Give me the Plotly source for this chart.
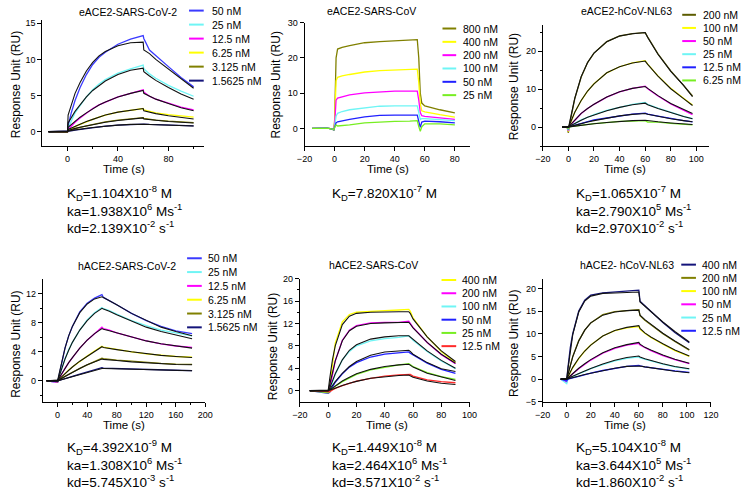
import plotly.graph_objects as go

W, H = 747, 494
FONT = "Liberation Sans, Arial, sans-serif"

# ---------------- colours ----------------
BLUE = "#3a3aff"
CYAN = "#6ff5f5"
MAG = "#ff00ff"
YEL = "#ffff00"
OLIVE = "#808000"
NAVY = "#14147a"
GREEN = "#77ee22"
RED = "#ff2a2a"
DKOLIVE = "#5c5c00"

# ---------------- panel 1: eACE2-SARS-CoV-2 ----------------
p1_conc = ["50 nM", "25 nM", "12.5 nM", "6.25 nM", "3.125 nM", "1.5625 nM"]
p1_colors = [BLUE, CYAN, MAG, YEL, OLIVE, NAVY]
p1_time = [-15, 0, 0.5, 3, 6, 10, 15, 20, 25, 30, 40, 50, 60, 60.5, 65, 70, 80, 90, 100]
p1_data = [
    [0, -0.1, 0.8, 2.6, 4.3, 6.1, 7.9, 9.3, 10.3, 11.0, 12.1, 12.8, 13.3, 12.9, 11.3, 10.5, 9.0, 7.5, 6.2],
    [0, -0.1, 0.5, 1.5, 2.6, 3.6, 4.8, 5.8, 6.6, 7.2, 8.1, 8.7, 9.2, 8.7, 8.0, 7.4, 6.4, 5.6, 4.9],
    [0, -0.1, 0.3, 0.8, 1.3, 1.9, 2.6, 3.2, 3.7, 4.1, 4.8, 5.3, 5.8, 5.5, 4.9, 4.5, 3.9, 3.4, 3.0],
    [0, -0.05, 0.1, 0.4, 0.7, 1.0, 1.4, 1.7, 2.0, 2.3, 2.7, 3.0, 3.2, 3.0, 2.8, 2.6, 2.35, 2.15, 2.0],
    [0, 0, 0.05, 0.2, 0.4, 0.6, 0.8, 1.0, 1.2, 1.35, 1.6, 1.8, 1.95, 1.85, 1.7, 1.6, 1.45, 1.35, 1.25],
    [0, 0, 0, 0.1, 0.2, 0.3, 0.45, 0.55, 0.65, 0.75, 0.9, 1.0, 1.1, 1.05, 1.0, 0.97, 0.9, 0.85, 0.8],
]
p1_fit = [
    [0, 0, 2.3, 3.8, 5.3, 6.8, 8.4, 9.6, 10.5, 11.1, 11.9, 12.3, 12.4, 11.3, 10.8, 10.0, 8.7, 7.3, 6.0],
    [0, 0, 1.2, 2.0, 2.8, 3.7, 4.8, 5.7, 6.4, 7.0, 7.9, 8.5, 8.8, 8.3, 7.7, 7.1, 6.1, 5.2, 4.5],
    [0, 0, 0.6, 1.0, 1.5, 2.0, 2.6, 3.2, 3.7, 4.1, 4.8, 5.3, 5.7, 5.3, 4.9, 4.5, 3.9, 3.3, 2.9],
    [0, 0, 0.3, 0.5, 0.75, 1.0, 1.4, 1.7, 2.0, 2.3, 2.7, 3.0, 3.2, 2.9, 2.7, 2.5, 2.2, 1.95, 1.75],
    [0, 0, 0.15, 0.3, 0.45, 0.6, 0.8, 1.0, 1.15, 1.3, 1.55, 1.75, 1.9, 1.75, 1.65, 1.55, 1.4, 1.3, 1.2],
    [0, 0, 0.08, 0.15, 0.25, 0.35, 0.47, 0.57, 0.67, 0.75, 0.9, 1.0, 1.08, 1.02, 0.98, 0.95, 0.88, 0.83, 0.78],
]

# ---------------- panel 2: eACE2-SARS-CoV (no fits) ----------------
p2_conc = ["800 nM", "400 nM", "200 nM", "100 nM", "50 nM", "25 nM"]
p2_colors = [OLIVE, YEL, MAG, CYAN, "#2020ff", GREEN]
p2_time = [-15, -5, -2, -0.5, 0, 0.5, 1, 2, 5, 10, 20, 30, 40, 50, 55, 56, 57, 58, 60, 70, 80]
p2_data = [
    [0, 0.1, -0.1, -0.4, 2, 15, 20, 22.5, 23.0, 23.5, 24.3, 24.6, 24.9, 25.0, 25.2, 20, 10, 7.2, 6.4, 5.3, 4.4],
    [0, 0.1, -0.1, -0.4, 1.5, 10, 13.5, 14.5, 14.9, 15.3, 16.0, 16.4, 16.6, 16.7, 16.8, 13, 7, 5.0, 4.7, 3.9, 3.2],
    [0, 0.1, -0.1, -0.4, 1, 6, 8.0, 8.6, 9.0, 9.5, 10.1, 10.4, 10.6, 10.6, 10.6, 8, 4.5, 3.6, 3.4, 3.0, 2.6],
    [0, 0.1, -0.1, -0.4, 0.5, 2.5, 3.5, 4.3, 4.8, 5.3, 5.9, 6.3, 6.4, 6.4, 6.4, 4.5, 2.5, 2.8, 2.8, 2.5, 2.2],
    [0, 0.1, -0.1, -0.4, 0.3, 1.2, 1.6, 1.9, 2.2, 2.6, 3.3, 3.7, 3.8, 3.8, 3.8, 2.0, 0.3, 1.8, 2.1, 1.9, 1.6],
    [0, 0.1, -0.1, -0.4, 0.2, 0.8, 1.0, 0.7, 0.8, 1.0, 1.6, 1.9, 2.0, 2.1, 2.2, 0.5, -0.8, 0.5, 1.3, 1.3, 1.0],
]
p2_fit = None

# ---------------- panel 3: eACE2-hCoV-NL63 ----------------
p3_conc = ["200 nM", "100 nM", "50 nM", "25 nM", "12.5 nM", "6.25 nM"]
p3_colors = [DKOLIVE, YEL, MAG, CYAN, "#2020ff", GREEN]
p3_time = [-5, -1, 0, 0.5, 2, 5, 10, 15, 20, 30, 40, 50, 60, 62, 70, 80, 90, 97]
p3_data = [
    [0, 0, -1.5, 0, 2.5, 7.5, 13.2, 17.0, 19.5, 22.5, 24.0, 24.6, 24.9, 23.7, 19.3, 14.8, 11.0, 8.2],
    [0, 0, -1.2, 0, 1.3, 3.9, 7.0, 9.5, 11.4, 14.3, 15.9, 16.9, 17.5, 16.6, 13.5, 10.2, 7.6, 5.8],
    [0, 0, -1.0, 0, 0.7, 1.9, 3.6, 4.9, 6.0, 7.9, 9.3, 10.2, 10.8, 10.1, 8.2, 6.1, 4.5, 3.3],
    [0, 0, -0.8, 0, 0.4, 1.0, 1.9, 2.6, 3.3, 4.4, 5.3, 6.0, 6.5, 6.0, 5.0, 3.8, 2.8, 2.2],
    [0, 0, -0.6, 0, 0.2, 0.5, 1.0, 1.4, 1.9, 2.4, 3.0, 3.4, 3.7, 3.4, 2.9, 2.2, 1.7, 1.4],
    [0, 0, -0.5, 0, 0.1, 0.25, 0.5, 0.7, 0.9, 1.2, 1.5, 1.6, 1.7, 1.3, 1.3, 1.0, 0.8, 0.6],
]
p3_fit = [
    [0, 0, 0, 0.5, 2.7, 7.6, 13.3, 17.0, 19.5, 22.5, 24.0, 24.6, 24.9, 23.6, 19.2, 14.7, 11.0, 8.0],
    [0, 0, 0, 0.3, 1.4, 3.9, 7.0, 9.5, 11.4, 14.3, 15.9, 16.9, 17.4, 16.5, 13.4, 10.1, 7.5, 5.7],
    [0, 0, 0, 0.2, 0.7, 1.9, 3.6, 4.9, 6.0, 7.9, 9.3, 10.2, 10.7, 10.2, 8.3, 6.2, 4.6, 3.6],
    [0, 0, 0, 0.1, 0.4, 1.0, 1.8, 2.6, 3.2, 4.3, 5.2, 5.9, 6.3, 5.9, 4.9, 3.8, 2.8, 2.2],
    [0, 0, 0, 0.05, 0.2, 0.5, 0.95, 1.35, 1.7, 2.4, 2.95, 3.35, 3.6, 3.4, 2.85, 2.2, 1.7, 1.4],
    [0, 0, 0, 0.02, 0.1, 0.25, 0.5, 0.7, 0.9, 1.2, 1.5, 1.7, 1.8, 1.7, 1.4, 1.1, 0.85, 0.7],
]

# ---------------- panel 4: hACE2-SARS-CoV-2 ----------------
p4_conc = ["50 nM", "25 nM", "12.5 nM", "6.25 nM", "3.125 nM", "1.5625 nM"]
p4_colors = [BLUE, CYAN, MAG, YEL, OLIVE, NAVY]
p4_time = [-15, 0, 1, 5, 10, 15, 20, 30, 40, 50, 60, 62, 70, 80, 100, 120, 140, 160, 182]
p4_data = [
    [0, -0.2, 0.3, 2.4, 4.5, 6.2, 7.5, 9.5, 10.7, 11.4, 11.9, 11.5, 11.1, 10.5, 9.3, 8.3, 7.5, 6.9, 6.5],
    [0, -0.2, 0.2, 1.6, 3.0, 4.3, 5.3, 7.0, 8.4, 9.4, 10.1, 9.95, 9.7, 9.2, 8.3, 7.6, 7.0, 6.6, 6.2],
    [0, -0.2, 0.1, 0.9, 1.7, 2.5, 3.2, 4.5, 5.6, 6.5, 7.4, 7.2, 7.0, 6.6, 6.0, 5.5, 5.1, 4.8, 4.6],
    [0, -0.1, 0.05, 0.5, 1.0, 1.5, 1.9, 2.7, 3.4, 4.1, 4.75, 4.65, 4.5, 4.3, 4.0, 3.7, 3.5, 3.35, 3.25],
    [0, -0.1, 0, 0.3, 0.6, 0.9, 1.2, 1.7, 2.2, 2.7, 3.1, 3.05, 2.95, 2.85, 2.7, 2.5, 2.4, 2.3, 2.25],
    [0, -0.1, 0, 0.15, 0.3, 0.45, 0.6, 0.9, 1.2, 1.5, 1.8, 1.75, 1.72, 1.7, 1.6, 1.55, 1.5, 1.45, 1.4],
]
p4_fit = [
    [0, 0, 0.5, 2.5, 4.5, 6.2, 7.5, 9.4, 10.6, 11.3, 11.6, 11.5, 11.1, 10.5, 9.3, 8.3, 7.4, 6.8, 6.2],
    [0, 0, 0.3, 1.6, 3.0, 4.2, 5.3, 7.0, 8.3, 9.3, 10.0, 9.9, 9.6, 9.1, 8.2, 7.4, 6.8, 6.3, 5.8],
    [0, 0, 0.2, 0.9, 1.7, 2.5, 3.2, 4.5, 5.6, 6.5, 7.2, 7.1, 6.9, 6.6, 6.0, 5.5, 5.1, 4.8, 4.5],
    [0, 0, 0.1, 0.5, 1.0, 1.5, 1.9, 2.7, 3.4, 4.1, 4.7, 4.6, 4.5, 4.3, 4.0, 3.7, 3.5, 3.35, 3.2],
    [0, 0, 0.05, 0.3, 0.6, 0.9, 1.2, 1.7, 2.2, 2.6, 3.0, 2.95, 2.9, 2.8, 2.6, 2.45, 2.35, 2.25, 2.2],
    [0, 0, 0.02, 0.15, 0.3, 0.45, 0.6, 0.9, 1.2, 1.45, 1.7, 1.7, 1.68, 1.65, 1.58, 1.52, 1.47, 1.42, 1.38],
]

# ---------------- panel 5: hACE2-SARS-CoV ----------------
p5_conc = ["400 nM", "200 nM", "100 nM", "50 nM", "25 nM", "12.5 nM"]
p5_colors = [YEL, MAG, CYAN, "#2020ff", GREEN, RED]
p5_time = [-13, 0, 1, 3, 5, 10, 15, 20, 30, 40, 50, 57, 58, 60, 70, 80, 90]
p5_data = [
    [0, 0, 0.5, 5, 8.5, 12.3, 13.6, 14.0, 14.2, 14.3, 14.4, 14.5, 14.2, 13.0, 9.6, 7.0, 5.0],
    [0, 0, 0.3, 3.0, 5.3, 9.0, 10.8, 11.6, 12.1, 12.2, 12.2, 12.4, 12.1, 11.3, 8.6, 6.4, 4.8],
    [0, -0.3, -0.2, 1.5, 2.9, 5.5, 7.0, 8.0, 8.9, 9.3, 9.5, 9.8, 9.5, 9.0, 7.0, 5.3, 3.9],
    [0, -0.5, -0.3, 0.7, 1.5, 3.0, 4.2, 5.0, 6.0, 6.5, 6.7, 6.9, 6.7, 6.4, 4.9, 3.8, 3.1],
    [0, -0.4, -0.2, 0.3, 0.8, 1.6, 2.3, 2.9, 3.7, 4.2, 4.6, 4.8, 4.6, 4.3, 3.2, 2.5, 2.0],
    [0, -0.3, -0.2, 0.1, 0.4, 0.9, 1.3, 1.7, 2.2, 2.6, 2.8, 3.0, 2.9, 2.6, 1.9, 1.6, 1.4],
]
p5_fit = [
    [0, 0, 2.0, 5.5, 8.0, 11.8, 13.3, 13.8, 14.0, 14.1, 14.1, 14.1, 13.8, 12.8, 9.6, 7.1, 5.2],
    [0, 0, 1.0, 3.3, 5.3, 8.9, 10.7, 11.5, 12.0, 12.1, 12.2, 12.2, 11.9, 11.2, 8.6, 6.5, 4.9],
    [0, 0, 0.4, 1.7, 3.0, 5.5, 7.2, 8.2, 9.2, 9.6, 9.8, 9.8, 9.6, 9.1, 7.1, 5.4, 4.0],
    [0, 0, 0.2, 0.9, 1.6, 3.1, 4.3, 5.2, 6.3, 6.9, 7.1, 7.2, 7.0, 6.5, 5.0, 3.9, 3.4],
    [0, 0, 0.1, 0.45, 0.85, 1.7, 2.4, 3.0, 3.8, 4.3, 4.6, 4.7, 4.55, 4.2, 3.1, 2.4, 1.8],
    [0, 0, 0.05, 0.25, 0.45, 0.9, 1.3, 1.65, 2.2, 2.5, 2.7, 2.8, 2.65, 2.4, 1.7, 1.3, 1.1],
]

# ---------------- panel 6: hACE2- hCoV-NL63 ----------------
p6_conc = ["400 nM", "200 nM", "100 nM", "50 nM", "25 nM", "12.5 nM"]
p6_colors = [NAVY, OLIVE, YEL, MAG, CYAN, "#2020ff"]
p6_time = [-5, 0, 1, 3, 5, 10, 15, 20, 30, 40, 50, 60, 61, 65, 70, 80, 90, 102]
p6_data = [
    [0, -0.2, 2.5, 7.0, 10.0, 15.0, 17.4, 18.5, 19.0, 19.2, 19.3, 19.6, 17.2, 16.2, 15.0, 12.5, 10.3, 8.0],
    [0, -0.3, 1.0, 3.2, 5.0, 8.5, 10.8, 12.4, 14.2, 14.9, 15.1, 15.3, 14.0, 13.0, 12.0, 10.0, 8.3, 6.4],
    [0, -0.5, 0.4, 1.5, 2.5, 4.5, 6.2, 7.5, 9.5, 10.7, 11.3, 11.6, 11.0, 10.1, 9.2, 7.7, 6.3, 5.0],
    [0, -0.7, 0.1, 0.7, 1.2, 2.3, 3.3, 4.2, 5.7, 6.8, 7.5, 7.9, 7.5, 6.9, 6.3, 5.2, 4.3, 3.4],
    [0, -1.0, 0, 0.3, 0.6, 1.2, 1.7, 2.3, 3.2, 4.0, 4.6, 4.9, 4.7, 4.4, 4.0, 3.3, 2.7, 2.2],
    [0, -0.4, 0, 0.2, 0.3, 0.6, 1.0, 1.3, 1.9, 2.4, 2.8, 3.0, 2.9, 2.7, 2.5, 2.1, 1.8, 1.5],
]
p6_fit = [
    [0, 0, 2.2, 6.5, 9.8, 14.8, 17.2, 18.3, 18.9, 19.0, 19.1, 19.2, 17.0, 16.0, 14.9, 12.6, 10.5, 8.2],
    [0, 0, 1.0, 3.1, 4.9, 8.4, 10.8, 12.4, 14.1, 14.8, 15.1, 15.2, 14.1, 13.1, 12.1, 10.1, 8.4, 6.5],
    [0, 0, 0.5, 1.6, 2.6, 4.6, 6.2, 7.5, 9.5, 10.7, 11.4, 11.8, 11.2, 10.2, 9.3, 7.8, 6.4, 5.1],
    [0, 0, 0.25, 0.75, 1.25, 2.4, 3.4, 4.3, 5.8, 6.9, 7.6, 8.1, 7.7, 7.0, 6.4, 5.3, 4.4, 3.5],
    [0, 0, 0.12, 0.4, 0.65, 1.25, 1.8, 2.35, 3.35, 4.15, 4.75, 5.1, 4.9, 4.5, 4.1, 3.4, 2.8, 2.3],
    [0, 0, 0.06, 0.2, 0.35, 0.7, 1.0, 1.3, 1.9, 2.4, 2.8, 3.0, 2.9, 2.7, 2.5, 2.1, 1.75, 1.4],
]

# ---------------- kinetic constants (text) ----------------
titles = ["eACE2-SARS-CoV-2", "eACE2-SARS-CoV", "eACE2-hCoV-NL63",
          "hACE2-SARS-CoV-2", "hACE2-SARS-CoV", "hACE2- hCoV-NL63"]
kd_text = ["1.104X10<sup>-8</sup> M", "7.820X10<sup>-7</sup> M", "1.065X10<sup>-7</sup> M",
           "4.392X10<sup>-9</sup> M", "1.449X10<sup>-8</sup> M", "5.104X10<sup>-8</sup> M"]
ka_text = ["1.938X10<sup>6</sup> Ms<sup>-1</sup>", None, "2.790X10<sup>5</sup> Ms<sup>-1</sup>",
           "1.308X10<sup>6</sup> Ms<sup>-1</sup>", "2.464X10<sup>6</sup> Ms<sup>-1</sup>",
           "3.644X10<sup>5</sup> Ms<sup>-1</sup>"]
koff_text = ["2.139X10<sup>-2</sup> s<sup>-1</sup>", None, "2.970X10<sup>-2</sup> s<sup>-1</sup>",
             "5.745X10<sup>-3</sup> s<sup>-1</sup>", "3.571X10<sup>-2</sup> s<sup>-1</sup>",
             "1.860X10<sup>-2</sup> s<sup>-1</sup>"]

# ---------------- layout geometry (pixels) ----------------
panels = [
    dict(t=p1_time, conc=p1_conc, col=p1_colors, data=p1_data, fit=p1_fit,
         px=(35, 200), py=(15, 144), xr=[-20, 108], yr=[-2, 15.5],
         xt=[0, 40, 80], xm=[20, 60, 100], yt=[0, 5, 10, 15], ym=[],
         title=(123, 7), ytit=(9, 81), xtit=(119, 167.5),
         leg=(185, 200, 206, 5.7, 14.3), txt=(58, 192)),
    dict(t=p2_time, conc=p2_conc, col=p2_colors, data=p2_data, fit=p2_fit,
         px=(303, 472), py=(18, 144), xr=[-20, 90], yr=[-5, 30],
         xt=[-20, 0, 20, 40, 60, 80], xm=[], yt=[0, 10, 20, 30], ym=[],
         title=(371, 6), ytit=(274, 82), xtit=(388, 167.5),
         leg=(444, 458, 463, 24, 13.6), txt=(329, 192)),
    dict(t=p3_time, conc=p3_conc, col=p3_colors, data=p3_data, fit=p3_fit,
         px=(546.5, 716.5), py=(20, 144), xr=[-20, 110], yr=[-5, 27],
         xt=[-20, 0, 20, 40, 60, 80, 100], xm=[], yt=[0, 10, 20], ym=[-5, 5, 15, 25],
         title=(632, 6), ytit=(517, 83), xtit=(631, 167.5),
         leg=(689, 703, 708, 10, 13.4), txt=(578, 192)),
    dict(t=p4_time, conc=p4_conc, col=p4_colors, data=p4_data, fit=p4_fit,
         px=(35.6, 201.7), py=(280, 405.7), xr=[-20, 200], yr=[-3, 14],
         xt=[0, 40, 80, 120, 160, 200], xm=[20, 60, 100, 140, 180], yt=[0, 4, 8, 12], ym=[-2, 2, 6, 10],
         title=(122, 266), ytit=(8, 346), xtit=(119, 429),
         leg=(183, 198, 202, 258.5, 14.1), txt=(58, 451)),
    dict(t=p5_time, conc=p5_conc, col=p5_colors, data=p5_data, fit=p5_fit,
         px=(298.3, 471.7), py=(279.3, 405), xr=[-20, 100], yr=[-2, 20],
         xt=[-20, 0, 20, 40, 60, 80, 100], xm=[], yt=[0, 4, 8, 12, 16, 20], ym=[2, 6, 10, 14, 18],
         title=(373, 265), ytit=(271, 349), xtit=(387, 429),
         leg=(443, 458, 462, 280.7, 13.5), txt=(329, 451)),
    dict(t=p6_time, conc=p6_conc, col=p6_colors, data=p6_data, fit=p6_fit,
         px=(546.4, 718.3), py=(280, 405), xr=[-20, 120], yr=[-5, 22],
         xt=[-20, 0, 20, 40, 60, 80, 100, 120], xm=[], yt=[-5, 0, 5, 10, 15, 20], ym=[],
         title=(633, 265), ytit=(517, 345), xtit=(631, 429),
         leg=(688, 703, 707, 265, 13.5), txt=(578, 451)),
]

LINE_GAP = 17.5


def fx(px):
    return px / W


def fy(py):
    return 1 - py / H


fig = go.Figure()
annotations = []
shapes = []

for i, p in enumerate(panels):
    n = i + 1
    xa = "x" if n == 1 else f"x{n}"
    ya = "y" if n == 1 else f"y{n}"
    # measured data
    for vals, c in zip(p["data"], p["col"]):
        fig.add_trace(go.Scatter(x=p["t"], y=vals, mode="lines", xaxis=xa, yaxis=ya,
                                 line=dict(color=c, width=1.3), showlegend=False,
                                 hoverinfo="skip"))
    # fitted curves
    if p["fit"] is not None:
        for vals in p["fit"]:
            fig.add_trace(go.Scatter(x=p["t"], y=vals, mode="lines", xaxis=xa, yaxis=ya,
                                     line=dict(color="#111111", width=1.1), showlegend=False,
                                     hoverinfo="skip"))

    axis_common = dict(showgrid=False, zeroline=False, showline=True, linecolor="black",
                       linewidth=1, ticks="outside", ticklen=4, tickwidth=1, tickcolor="black",
                       tickfont=dict(family=FONT, size=9, color="black"), fixedrange=True)
    fig.layout[f"xaxis{'' if n == 1 else n}"] = dict(
        domain=[fx(p["px"][0]), fx(p["px"][1])], range=p["xr"], anchor=ya,
        tickmode="array", tickvals=p["xt"],
        minor=dict(tickmode="array", tickvals=p["xm"], ticks="outside", ticklen=2,
                   tickcolor="black", tickwidth=1),
        **axis_common)
    fig.layout[f"yaxis{'' if n == 1 else n}"] = dict(
        domain=[fy(p["py"][1]), fy(p["py"][0])], range=p["yr"], anchor=xa,
        tickmode="array", tickvals=p["yt"],
        minor=dict(tickmode="array", tickvals=p["ym"], ticks="outside", ticklen=2,
                   tickcolor="black", tickwidth=1),
        **axis_common)

    # title
    annotations.append(dict(text=titles[i], x=fx(p["title"][0]), y=fy(p["title"][1]),
                            xref="paper", yref="paper", xanchor="center", yanchor="middle",
                            showarrow=False, font=dict(family=FONT, size=10.5, color="black")))
    # axis titles
    annotations.append(dict(text="Response Unit (RU)", x=fx(p["ytit"][0]), y=fy(p["ytit"][1]),
                            xref="paper", yref="paper", xanchor="center", yanchor="middle",
                            textangle=-90, showarrow=False,
                            font=dict(family=FONT, size=12, color="black")))
    annotations.append(dict(text="Time (s)", x=fx(p["xtit"][0]), y=fy(p["xtit"][1]),
                            xref="paper", yref="paper", xanchor="center", yanchor="middle",
                            showarrow=False, font=dict(family=FONT, size=11.5, color="black")))
    # legend (drawn manually for tight spacing)
    lx0, lx1, tx, ly0, dy = p["leg"]
    for k, (lab, c) in enumerate(zip(p["conc"], p["col"])):
        yy = ly0 + k * dy
        shapes.append(dict(type="line", xref="paper", yref="paper",
                           x0=fx(lx0), x1=fx(lx1), y0=fy(yy), y1=fy(yy),
                           line=dict(color=c, width=2)))
        annotations.append(dict(text=lab, x=fx(tx), y=fy(yy), xref="paper", yref="paper",
                                xanchor="left", yanchor="middle", showarrow=False,
                                font=dict(family=FONT, size=10.5, color="black")))
    # kinetic constants
    tx0, ty0 = p["txt"]
    lines = ["K<sub>D</sub>=" + kd_text[i]]
    if ka_text[i]:
        lines.append("ka=" + ka_text[i])
    if koff_text[i]:
        lines.append("kd=" + koff_text[i])
    for k, s in enumerate(lines):
        annotations.append(dict(text=s, x=fx(tx0), y=fy(ty0 + k * LINE_GAP), xref="paper",
                                yref="paper", xanchor="left", yanchor="middle",
                                showarrow=False, font=dict(family=FONT, size=13.5, color="black")))

fig.update_layout(width=W, height=H, margin=dict(l=0, r=0, t=0, b=0),
                  paper_bgcolor="white", plot_bgcolor="white",
                  annotations=annotations, shapes=shapes, showlegend=False)

fig.write_html("out.html",
               config={"displayModeBar": False, "staticPlot": True},
               post_script="document.body.style.margin='0';document.body.style.padding='0';"
                           "document.body.style.overflow='hidden';")
